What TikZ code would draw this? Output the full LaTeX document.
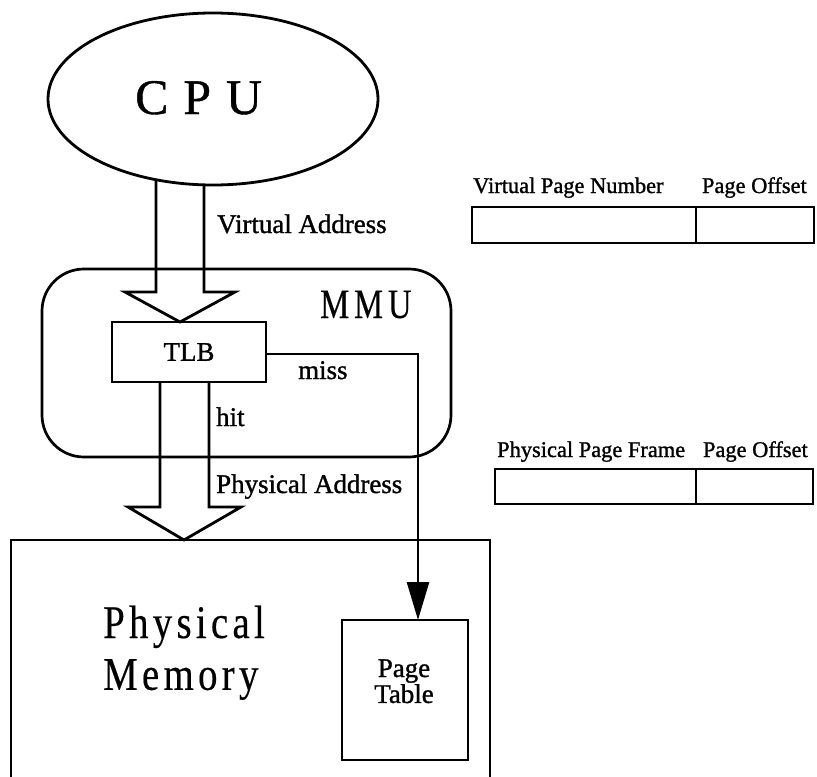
\documentclass[tikz,border=0pt]{standalone}
\usepackage{fontspec}
\usepackage{graphicx}
\setmainfont{Liberation Serif}[FakeBold=1.2]
\newfontfamily\cpufont[LetterSpace=30,FakeBold=0.8]{Liberation Serif}
\newfontfamily\mmufont[LetterSpace=15,FakeBold=0.4]{Liberation Serif}
\newfontfamily\memfont[LetterSpace=11,FakeBold=0.4]{Liberation Serif}
\usetikzlibrary{arrows.meta,calc,shapes.geometric}

\begin{document}
\begin{tikzpicture}[x=1bp, y=-1bp,
  box/.style={draw, inner sep=0pt, outer sep=0pt, line width=2.7bp},
  field/.style={draw, inner sep=0pt, outer sep=0pt, line width=2.3bp, anchor=north west},
  lbl/.style={inner sep=0pt, anchor=base west, font=\fontsize{27}{30}\selectfont},
  fieldlbl/.style={inner sep=0pt, font=\fontsize{22.5}{26}\selectfont},
  hollow/.style={draw, line width=2.8bp, line join=miter},
  pointer/.style={line width=2.7bp, -{Triangle[length=38bp, width=22bp]}},
]
\useasboundingbox (0,0) rectangle (817,777);
\clip (0,0) rectangle (817,777);

% wide arrow carrying the virtual address from the CPU down to the TLB
\draw[hollow] (156,170) -- (156,292) -- (125,292) -- (180,322)
              -- (235,292) -- (204,292) -- (204,170);

% CPU
\node[ellipse, draw, fill=white, line width=2.8bp, inner sep=0pt,
      minimum width=330bp, minimum height=172bp] (cpu) at (213,99) {};
\node[inner sep=0pt, anchor=base west] (cpulabel) at (135,114)
     {\fontsize{50}{52}\cpufont CPU};

% MMU with the TLB inside
\node[box, rounded corners=42bp, minimum width=409bp, minimum height=188bp,
      anchor=north west] (mmu) at (42,269) {};
\node[inner sep=0pt, anchor=base west] (mmulabel) at (320,318)
     {\scalebox{0.78}[1]{\fontsize{42}{44}\mmufont MMU}};
\node[box, minimum width=154bp, minimum height=60bp] (tlb) at (189,352)
     {\fontsize{27}{30}\selectfont TLB};

% wide arrow carrying the physical address down to memory
\draw[hollow] (160,382) -- (160,507) -- (128,507) -- (184,540)
              -- (241,507) -- (209,507) -- (209,382);

% physical memory and the page table kept in it
\node[box, minimum width=479bp, minimum height=300bp, anchor=north west]
     (pmem) at (11,540) {};
\node[inner sep=0pt, anchor=base west] (pmemlabel) at (103,638)
     {\scalebox{0.83}[1]{\fontsize{47}{52}\memfont
       \vtop{\hbox{Physical}\hbox{Memory}}}};
\node[box, minimum width=126bp, minimum height=140bp, anchor=north west]
     (ptab) at (342,620) {};
\node[inner sep=0pt, anchor=base] (ptablabel) at (404,677)
     {\fontsize{27}{26}\selectfont\vtop{\halign{\hfil#\hfil\cr Page\cr Table\cr}}};

% TLB miss goes to the page table
\draw[pointer] ([yshift=-2bp]tlb.east) -| ($(ptab.north)+(13,0)$);

% path labels
\node[lbl] (valabel) at (217,233) {Virtual Address};
\node[lbl] (misslabel) at (298,379) {miss};
\node[lbl] (hitlabel) at (216,426) {hit};
\node[lbl] (palabel) at (216,493) {Physical Address};

% address formats
\node[field, minimum width=224bp, minimum height=36bp] (vpn) at (472,207) {};
\node[field, minimum width=118bp, minimum height=36bp] (voff) at (vpn.north east) {};
\node[fieldlbl, anchor=base west] (vpnlabel) at (473,193) {Virtual Page Number};
\node[fieldlbl, anchor=base east] (vofflabel) at (807,193) {Page Offset};

\node[field, minimum width=201bp, minimum height=35bp] (ppf) at (495,469) {};
\node[field, minimum width=117bp, minimum height=35bp] (poff) at (ppf.north east) {};
\node[fieldlbl, anchor=base west] (ppflabel) at (497,457) {Physical Page Frame};
\node[fieldlbl, anchor=base east] (pofflabel) at (808,457) {Page Offset};
\end{tikzpicture}
\end{document}
